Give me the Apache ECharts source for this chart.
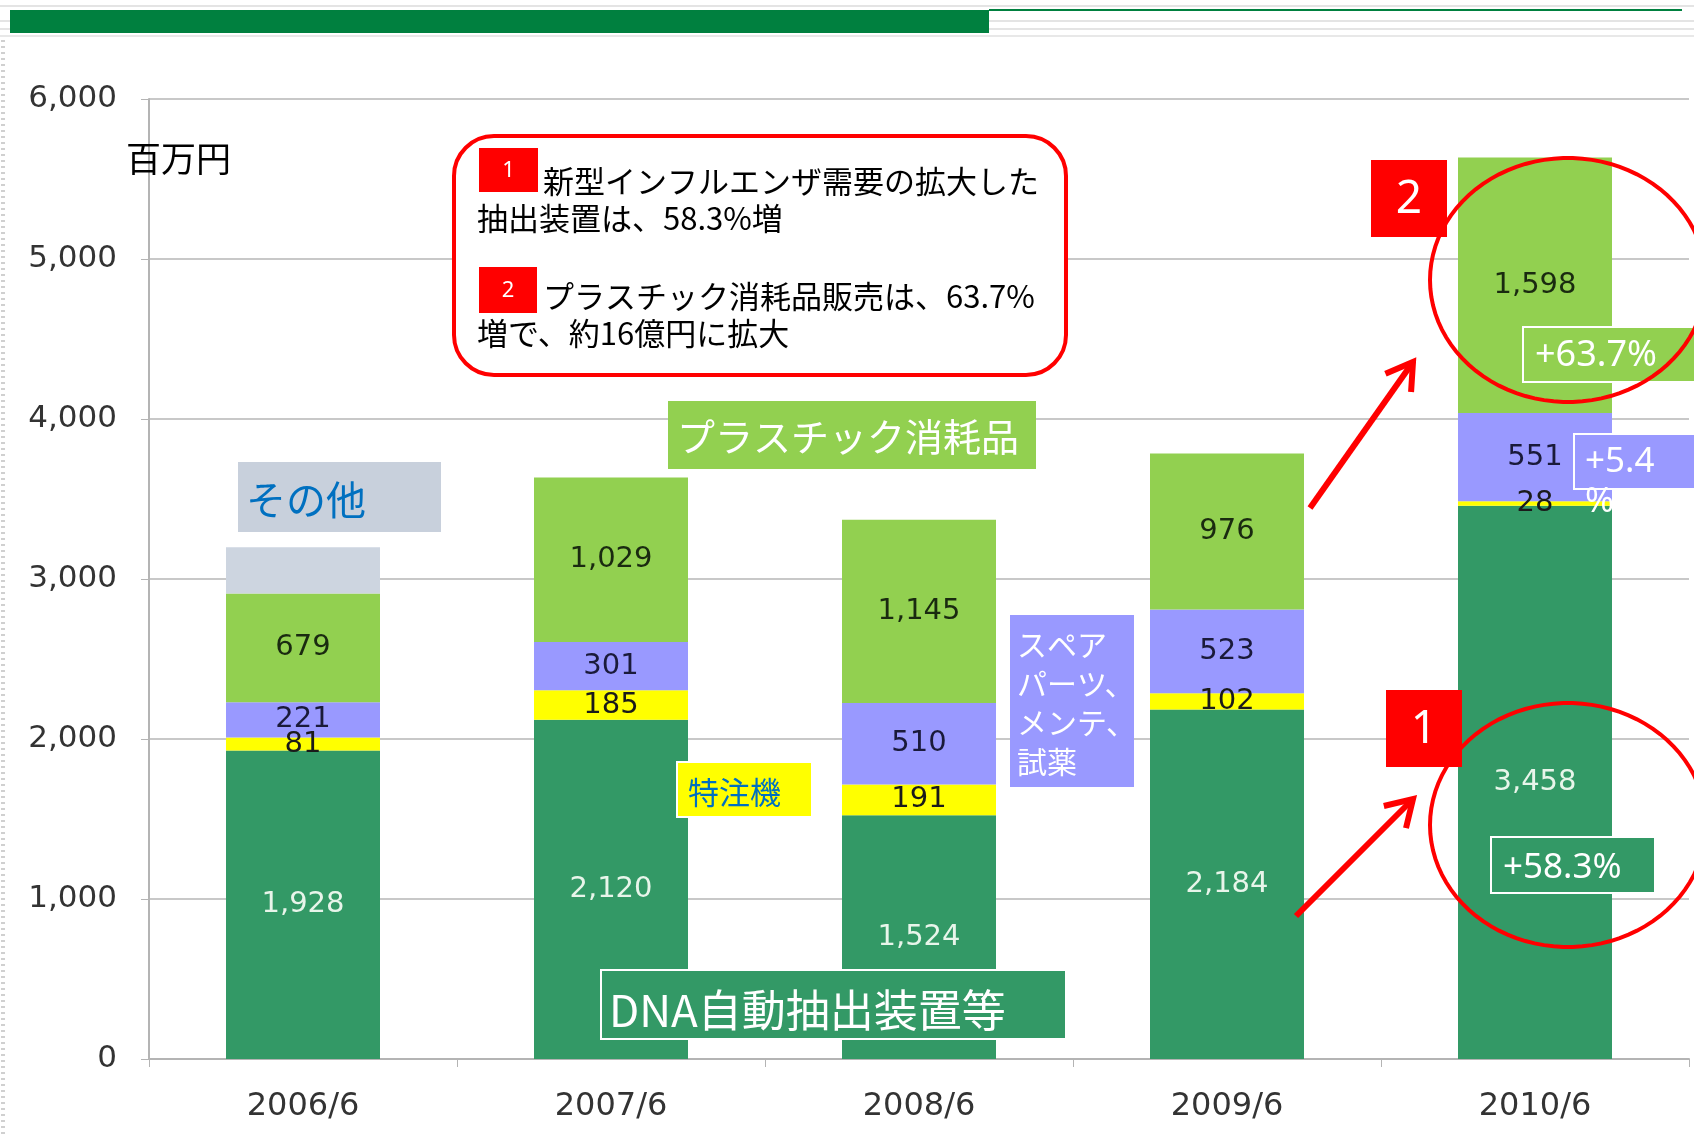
<!DOCTYPE html>
<html>
<head>
<meta charset="utf-8">
<script src="https://cdn.jsdelivr.net/npm/echarts@6/dist/echarts.min.js"></script>
<style>
  html, body { margin: 0; padding: 0; background: #fff; }
  #chart { width: 1694px; height: 1137px; }
</style>
</head>
<body>
<div id="chart"></div>
<script>
// 売上の内訳 (百万円)
const years = ['2006/6', '2007/6', '2008/6', '2009/6', '2010/6'];
const dnaValues = [1928, 2120, 1524, 2184, 3458];     // DNA自動抽出装置等
const customValues = [81, 185, 191, 102, 28];         // 特注機
const spareValues = [221, 301, 510, 523, 551];        // スペアパーツ、メンテ、試薬
const plasticValues = [679, 1029, 1145, 976, 1598];   // プラスチック消耗品
const otherValues = [290, null, null, null, null];    // その他
const yTicks = [0, 1000, 2000, 3000, 4000, 5000, 6000];

const JP = '"Noto Sans CJK JP", "Noto Sans", sans-serif';
const NUM = '"DejaVu Sans", Verdana, sans-serif';
const LAT = '"Noto Sans", sans-serif';

const chart = echarts.init(document.getElementById('chart'));

const fmt = (p) => (p.value == null ? '' : Number(p.value).toLocaleString('en-US'));

const segLabel = (color) => ({
  show: true,
  position: 'inside',
  formatter: fmt,
  color: color,
  fontFamily: NUM,
  fontSize: 29,
});

const text = (str, x, y, size, fill, extra) => ({
  type: 'text',
  z: 20,
  style: Object.assign({
    text: str, x: x, y: y, fill: fill,
    fontSize: size, fontFamily: JP,
    textVerticalAlign: 'middle', lineHeight: size * 1.25,
  }, extra || {}),
});

const box = (x, y, w, h, fill, stroke) => ({
  type: 'rect',
  z: 15,
  shape: { x: x, y: y, width: w, height: h },
  style: { fill: fill, stroke: stroke || null, lineWidth: stroke ? 2 : 0 },
});

const ellipse = (cx, cy, rx, ry) => {
  const pts = [];
  for (let i = 0; i < 90; i++) {
    const a = (i / 90) * Math.PI * 2;
    pts.push([cx + rx * Math.cos(a), cy + ry * Math.sin(a)]);
  }
  return { type: 'polygon', z: 25, shape: { points: pts }, style: { fill: null, stroke: '#ff0000', lineWidth: 4 } };
};

const arrow = (x1, y1, x2, y2) => {
  const ang = Math.atan2(y2 - y1, x2 - x1);
  const len = 30, spread = 0.55;
  const h1 = [x2 - len * Math.cos(ang - spread), y2 - len * Math.sin(ang - spread)];
  const h2 = [x2 - len * Math.cos(ang + spread), y2 - len * Math.sin(ang + spread)];
  return [
    { type: 'line', z: 25, shape: { x1: x1, y1: y1, x2: x2, y2: y2 }, style: { stroke: '#ff0000', lineWidth: 6 } },
    { type: 'polyline', z: 25, shape: { points: [h1, [x2, y2], h2] }, style: { stroke: '#ff0000', lineWidth: 6, fill: null, lineJoin: 'miter' } },
  ];
};

const redTag = (x, y, w, h, num, size) => [
  box(x, y, w, h, '#ff0000'),
  text(num, x + w / 2, y + h / 2 + 1, size, '#fff', { align: 'center', fontFamily: LAT }),
];

const option = {
  backgroundColor: '#fff',
  animation: false,
  grid: { left: 149, right: 5, top: 99, bottom: 78 },
  xAxis: {
    type: 'category',
    data: years,
    axisLine: { lineStyle: { color: '#b4b4b4', width: 2 } },
    axisTick: { show: true, length: 8, lineStyle: { color: '#b4b4b4' } },
    axisLabel: { color: '#333', fontFamily: NUM, fontSize: 32, margin: 32 },
  },
  yAxis: {
    type: 'value',
    min: yTicks[0],
    max: yTicks[yTicks.length - 1],
    interval: 1000,
    axisLine: { show: true, lineStyle: { color: '#b4b4b4', width: 2 } },
    axisTick: { show: true, length: 8, lineStyle: { color: '#b4b4b4' } },
    splitLine: { lineStyle: { color: '#c8c8c8', width: 2 } },
    axisLabel: {
      color: '#333', fontFamily: NUM, fontSize: 31, margin: 32,
      formatter: (v) => v.toLocaleString('en-US'),
    },
  },
  series: [
    { name: 'DNA自動抽出装置等', type: 'bar', stack: 'a', barWidth: '50%', data: dnaValues,
      itemStyle: { color: '#339966' }, label: segLabel('#e8f5ea') },
    { name: '特注機', type: 'bar', stack: 'a', data: customValues,
      itemStyle: { color: '#ffff00' }, label: segLabel('#1a1a1a') },
    { name: 'スペアパーツ', type: 'bar', stack: 'a', data: spareValues,
      itemStyle: { color: '#9999ff' }, label: segLabel('#1a1a3a') },
    { name: 'プラスチック消耗品', type: 'bar', stack: 'a', data: plasticValues,
      itemStyle: { color: '#92d050' }, label: segLabel('#1a2a10') },
    { name: 'その他', type: 'bar', stack: 'a', data: otherValues,
      itemStyle: { color: '#cdd5e0' }, label: { show: false } },
  ],
  graphic: [
    // slide header
    { type: 'line', shape: { x1: 0, y1: 6, x2: 1694, y2: 6 }, style: { stroke: '#e4e4e4', lineWidth: 2 } },
    { type: 'line', shape: { x1: 0, y1: 21, x2: 1694, y2: 21 }, style: { stroke: '#e4e4e4', lineWidth: 2 } },
    { type: 'line', shape: { x1: 0, y1: 29, x2: 1694, y2: 29 }, style: { stroke: '#e4e4e4', lineWidth: 2 } },
    { type: 'line', shape: { x1: 0, y1: 36, x2: 1694, y2: 36 }, style: { stroke: '#e8e8e8', lineWidth: 2 } },
    { type: 'rect', shape: { x: 10, y: 10, width: 979, height: 23 }, style: { fill: '#00803f' } },
    { type: 'line', shape: { x1: 989, y1: 10, x2: 1682, y2: 10 }, style: { stroke: '#00803f', lineWidth: 2 } },
    { type: 'line', shape: { x1: 3, y1: 40, x2: 3, y2: 1137 }, style: { stroke: '#d0d0d0', lineWidth: 4, lineDash: [2, 4] } },

    // unit
    text('百万円', 126, 159, 35, '#000'),

    // explanation box
    { type: 'rect', z: 15, shape: { x: 454, y: 136, width: 612, height: 239, r: 40 },
      style: { fill: '#fff', stroke: '#ff0000', lineWidth: 4 } },
    ...redTag(479, 148, 59, 44, '1', 22),
    text('新型インフルエンザ需要の拡大した', 543, 181, 31, '#000'),
    text('抽出装置は、58.3%増', 477, 218, 31, '#000'),
    ...redTag(479, 267, 58, 46, '2', 22),
    text('プラスチック消耗品販売は、63.7%', 543, 296, 31, '#000'),
    text('増で、約16億円に拡大', 477, 333, 31, '#000'),

    // series labels
    box(668, 401, 368, 68, '#92d050'),
    text('プラスチック消耗品', 677, 437, 38, '#fff'),
    box(238, 462, 203, 70, '#c8d0dc'),
    text('その他', 246, 500, 40, '#0070c0'),
    box(677, 762, 135, 55, '#ffff00', '#fff'),
    text('特注機', 688, 792, 31, '#0070c0'),
    box(1010, 615, 124, 172, '#9999ff'),
    text('スペア\nパーツ、\nメンテ、\n試薬', 1017, 703, 30, '#fff', { lineHeight: 39 }),
    box(601, 970, 465, 69, '#339966', '#fff'),
    text('DNA自動抽出装置等', 609, 1010, 44, '#fff'),

    // growth tags
    box(1523, 327, 175, 55, '#92d050', '#fff'),
    text('+63.7%', 1535, 356, 36, '#fff', { fontFamily: LAT }),
    box(1574, 434, 125, 55, '#9999ff', '#fff'),
    text('+5.4\n%', 1585, 482, 35, '#fff', { fontFamily: LAT, lineHeight: 40 }),
    box(1491, 837, 164, 56, '#339966', '#fff'),
    text('+58.3%', 1503, 868, 35, '#fff', { fontFamily: LAT }),

    // callouts
    ...redTag(1371, 160, 76, 77, '2', 46),
    ...redTag(1386, 690, 76, 77, '1', 46),
    ellipse(1568, 280, 138, 122),
    ellipse(1568, 825, 138, 122),
    ...arrow(1310, 508, 1413, 362),
    ...arrow(1296, 916, 1413, 799),
  ],
};

chart.setOption(option);
</script>
</body>
</html>
